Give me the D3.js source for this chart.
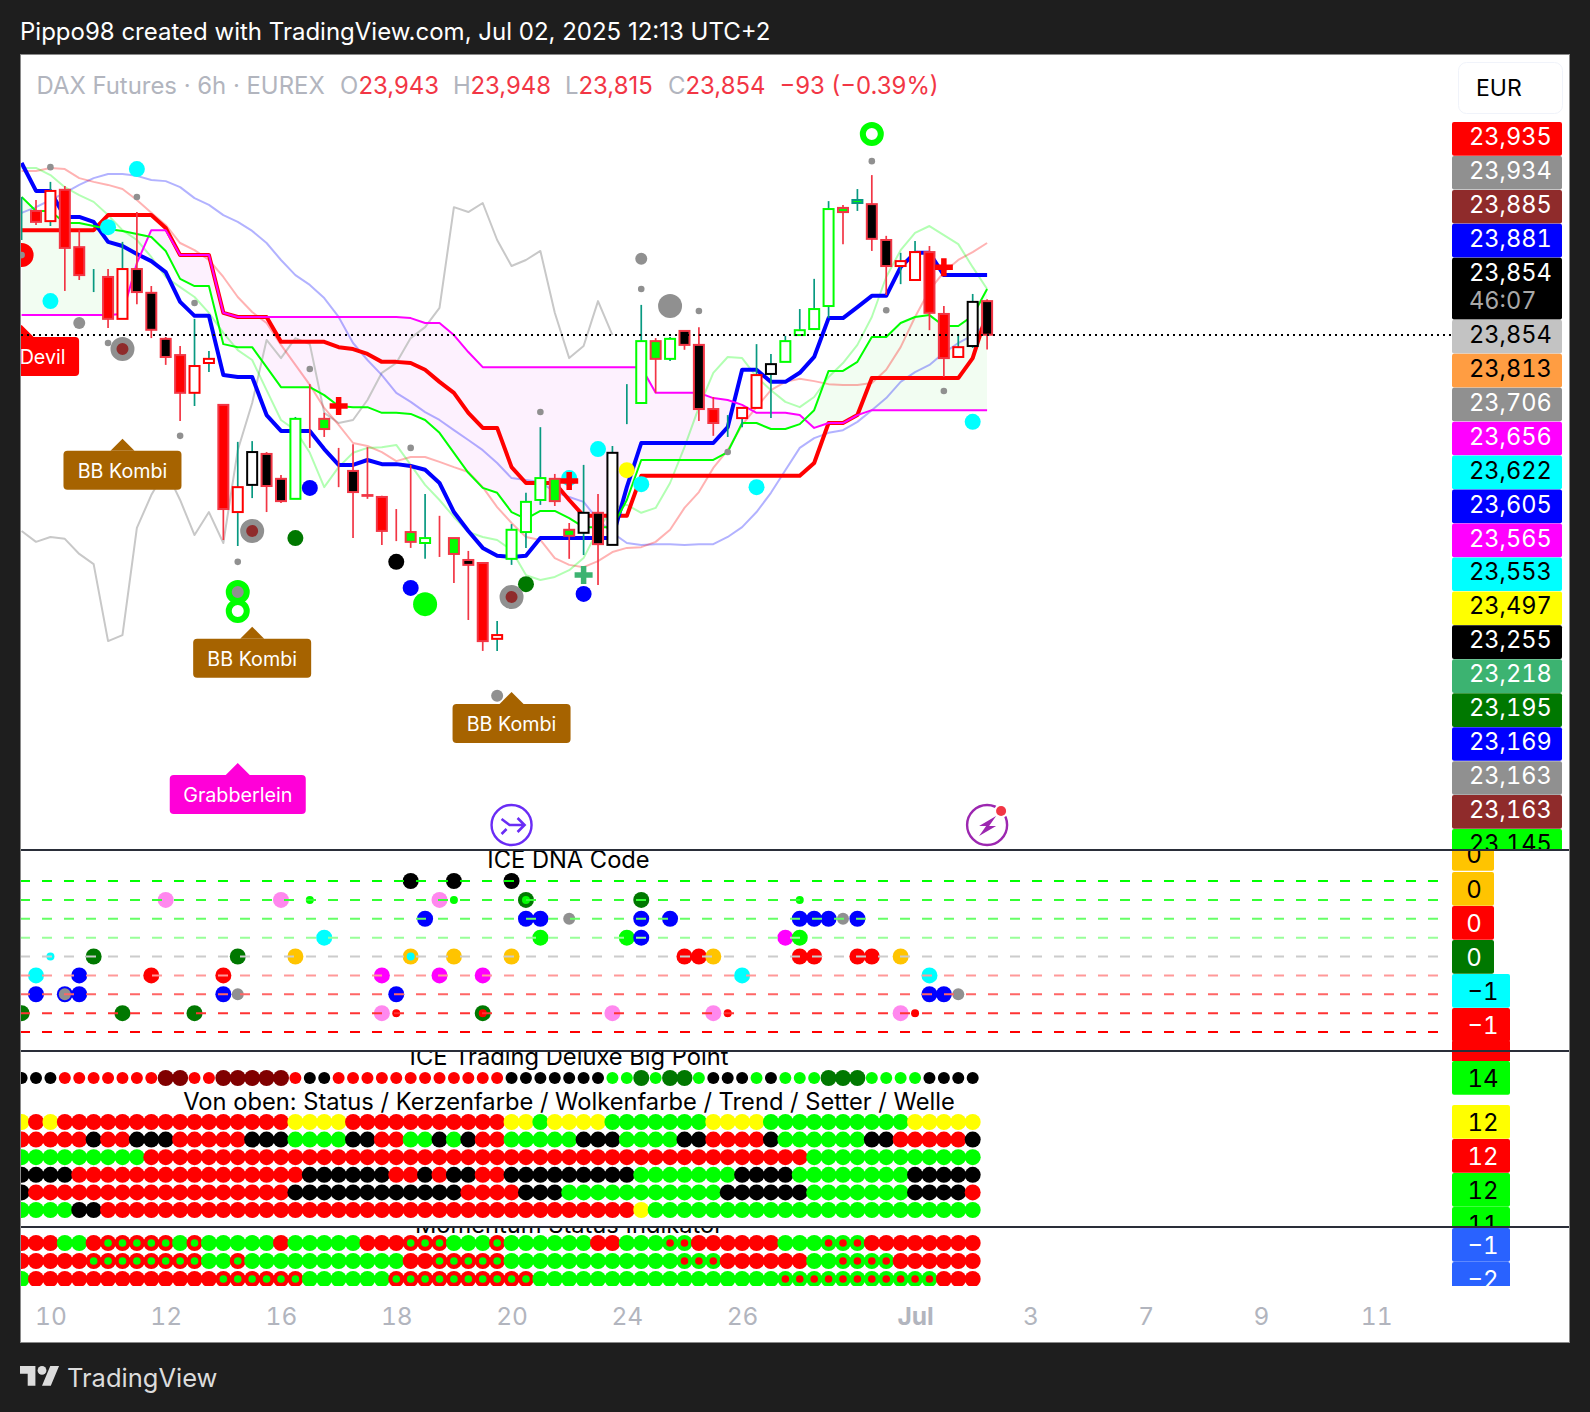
<!DOCTYPE html>
<html>
<head>
<meta charset="utf-8">
<title>DAX Futures 6h</title>
<script src="https://cdnjs.cloudflare.com/ajax/libs/d3/7.8.5/d3.min.js"></script>
<style>
  body { margin: 0; background: #1e1e1e; }
  svg { display: block; }
  text { font-family: Inter, "Noto Sans", sans-serif; }
  .num { font-variant-numeric: tabular-nums; }
</style>
</head>
<body>
<script>
//Width and height
var w = 1590;
var h = 1412;

// ---------- candles, one entry per 6h bar (price values)
var candleHigh = [24219,24211,24259,24248,24132,24028,24028,24100,24179,23983,23848,23824,23896,23811,23668,23570,23572,23543,23482,23636,23723,23647,23554,23564,23556,23427,23392,23509,23432,23374,23315,23281,23249,23095,23352,23435,23609,23485,23355,23509,23432,23559,23723,23933,23845,23848,23864,23874,23689,23641,23660,23829,23803,23851,23922,24002,24208,24198,24240,24277,24116,24071,24102,24089,23930,23856,23962,23948];
var candleLow = [24105,24145,24142,23970,23999,23967,23872,23896,23935,23845,23774,23625,23665,23755,23310,23294,23421,23384,23408,23419,23554,23583,23450,23315,23419,23297,23307,23289,23260,23265,23196,23098,23016,23016,23244,23289,23403,23400,23260,23270,23191,23297,23617,23673,23700,23784,23814,23625,23586,23583,23609,23660,23633,23782,23853,23869,23898,24094,24182,24076,23959,23988,23999,23866,23742,23795,23819,23815];
var bodyHigh = [24185,24182,24235,24238,24086,24012,24007,24028,24028,23965,23843,23800,23771,23790,23668,23450,23543,23538,23472,23631,23633,23631,23501,23493,23429,23424,23337,23331,23315,23315,23315,23257,23249,23058,23337,23411,23474,23472,23337,23382,23382,23541,23676,23837,23837,23843,23864,23827,23657,23623,23660,23747,23776,23837,23866,23922,24187,24190,24211,24200,24105,24049,24073,24073,23909,23821,23941,23943];
var bodyLow = [24185,24153,24155,24084,24012,24012,23896,23896,23967,23867,23795,23700,23700,23779,23392,23384,23456,23453,23413,23419,23633,23604,23501,23437,23427,23334,23337,23305,23302,23315,23273,23244,23042,23048,23260,23331,23416,23413,23321,23329,23299,23297,23676,23673,23790,23790,23827,23657,23620,23623,23633,23660,23750,23782,23853,23869,23930,24179,24203,24108,24036,24036,23999,23912,23792,23795,23824,23854];
// r red, k black, g green fill / h hollow red, b hollow black, e hollow green, t teal
var candleKind = "h r h r r b r h k k k r h h r h b k k e r g r k k r r g e r g k r h e e e g g b k b e e g e k k r h h h b e e e e g t k k h h r r h b k".split(" ");

// ---------- lines on the price pane
var blueLine = [24309,24235,24235,24166,24166,24153,24100,24089,24068,24049,24020,23941,23904,23904,23747,23742,23742,23641,23599,23599,23599,23551,23509,23509,23522,23511,23511,23506,23496,23461,23384,23334,23289,23268,23265,23268,23315,23315,23315,23315,23315,23315,23450,23567,23567,23567,23567,23567,23567,23609,23761,23761,23729,23729,23753,23795,23898,23898,23927,23957,23957,24033,24071,24071,24012,24012,24012,24012];
var redLine = [24131,24131,24131,24131,24131,24131,24171,24171,24171,24171,24137,24065,24065,24065,23912,23901,23901,23901,23835,23835,23835,23835,23821,23816,23803,23782,23782,23779,23761,23729,23700,23647,23607,23607,23503,23461,23461,23461,23416,23374,23374,23374,23374,23480,23480,23480,23480,23480,23480,23480,23480,23480,23480,23480,23480,23514,23620,23620,23641,23739,23739,23739,23739,23739,23739,23739,23792,23912];
var greenLine = [24219,24182,24182,24150,24150,24142,24134,24129,24121,24113,24076,24002,23983,23983,23829,23821,23821,23768,23715,23715,23715,23694,23665,23662,23662,23647,23647,23644,23628,23594,23541,23488,23448,23435,23384,23366,23387,23387,23368,23344,23344,23344,23416,23522,23522,23522,23522,23522,23522,23543,23620,23620,23604,23604,23617,23654,23758,23758,23782,23848,23848,23885,23901,23906,23877,23877,23904,23975];
var magentaLine = [23906,23906,23906,23906,23906,23906,23906,23909,24044,24131,24131,24065,24065,24065,23912,23901,23901,23901,23901,23901,23901,23901,23901,23901,23901,23901,23901,23898,23885,23885,23853,23808,23768,23768,23768,23768,23768,23768,23768,23768,23768,23768,23768,23768,23700,23700,23700,23700,23686,23681,23668,23647,23647,23647,23641,23607,23620,23620,23641,23654,23654,23654,23654,23654,23654,23654,23654,23654];
var paleGreenLine = [24296,24296,24277,24245,24224,24206,24171,24131,24105,24060,24007,23980,23954,23912,23859,23813,23787,23707,23628,23601,23541,23450,23503,23541,23554,23556,23562,23509,23456,23416,23371,23331,23318,23310,23283,23217,23204,23212,23230,23262,23337,23395,23403,23382,23395,23461,23556,23662,23753,23795,23792,23742,23707,23676,23662,23689,23742,23779,23827,23901,24007,24078,24124,24142,24118,24094,24033,23975];
var paleRedLine = [24288,24288,24296,24293,24269,24259,24251,24240,24211,24177,24145,24097,24078,24052,24007,23954,23914,23885,23827,23774,23721,23660,23615,23567,23559,23543,23519,23530,23530,23517,23503,23490,23450,23397,23355,23318,23310,23262,23244,23238,23254,23278,23289,23291,23305,23337,23395,23437,23501,23548,23615,23662,23707,23729,23737,23731,23723,23721,23721,23726,23761,23821,23901,23972,24020,24052,24073,24097];
var paleBlueLine = [24177,24192,24211,24230,24251,24269,24280,24280,24275,24264,24261,24245,24216,24198,24171,24153,24129,24097,24052,24012,23986,23951,23901,23832,23787,23747,23700,23676,23649,23628,23601,23575,23548,23514,23474,23469,23464,23437,23424,23411,23363,23329,23302,23297,23299,23299,23297,23299,23299,23318,23344,23384,23435,23495,23554,23580,23594,23601,23623,23654,23686,23729,23755,23774,23806,23832,23853,23885];
var laggingLine = [23334,23305,23318,23313,23273,23246,23042,23058,23342,23429,23495,23416,23323,23384,23302,23548,23673,23840,23792,23845,23829,23647,23620,23628,23681,23753,23779,23845,23874,23925,24192,24179,24203,24105,24036,24052,24076,23912,23792,23824,23943,23853];

// ---------- dots on the price pane: [bar, price]
var smallGrayDots = [[0,24065],[2,24298],[8,24219],[12,23938],[6,23832],[11,23586],[20,23763],[27,23554],[15,23252],[36,23649],[43,23975],[47,23917],[49,23543],[59,24314],[60,23919],[64,23705]];
var midGrayDots = [[4,23885],[33,22897],[43,24055]];
var bigGrayDots = [[45,23930]];
var cyanDots = [[8,24293],[6,24139],[2,23943],[40,23551],[43,23458],[51,23450],[66,23623],[38,23474]];
var yellowDots = [[42,23495]];
var blueDots = [[20,23448],[27,23183],[39,23167]];
var darkGreenDots = [[19,23315],[35,23193]];
var blackDots = [[26,23252]];
var limeDots = [[28,23140]];
var brownRings = [[7,23816],[16,23334],[34,23159]];
var limeRings = [[15,23122],[59,24386]];
var limeGrayRings = [[15,23172]];
var redDiscs = [[0,24065]];
var redCrosses = [[22,23665],[38,23466],[64,24033]];
var seaCrosses = [[39,23217]];

var tagBars = [7,16,34,15,0];
var tagPrices = [23578,23080,22907,22719,23880];
var tagTexts = ["BB Kombi","BB Kombi","BB Kombi","Grabberlein","Devil"];
var tagKinds = ["brown","brown","brown","pink","red"];

var priceLabels = ["23,935","23,934","23,885","23,881","23,854","23,854","23,813","23,706","23,656","23,622","23,605","23,565","23,553","23,497","23,255","23,218","23,195","23,169","23,163","23,163","23,145"];
var priceLabelKinds = ["red","gray","brown","blue","black","silver","orange","gray","magenta","cyan","blue","magenta","cyan","yellow","black","sea","dkgreen","blue","gray","brown","lime"];

// ---------- ICE DNA Code, rows 4 (top) to -4 (bottom): [bar, kind]
var dnaRow4 = [[27,"k"],[30,"k"],[34,"k"]];
var dnaRow3 = [[10,"p"],[18,"p"],[20,"gs"],[29,"p"],[30,"gs"],[35,"d"],[35,"gs"],[43,"d"],[54,"gs"]];
var dnaRow2 = [[28,"b"],[35,"b"],[36,"b"],[38,"n"],[43,"b"],[45,"b"],[54,"b"],[55,"b"],[56,"b"],[57,"n"],[58,"b"]];
var dnaRow1 = [[21,"c"],[36,"g"],[42,"g"],[43,"b"],[53,"m"],[54,"g"]];
var dnaRow0 = [[2,"cs"],[5,"d"],[15,"d"],[19,"a"],[27,"a"],[27,"cs"],[30,"a"],[34,"a"],[46,"r"],[47,"r"],[48,"a"],[54,"r"],[55,"r"],[58,"r"],[59,"r"],[61,"a"]];
var dnaRowM1 = [[1,"c"],[4,"b"],[9,"r"],[14,"r"],[25,"m"],[29,"m"],[32,"m"],[50,"c"],[63,"c"]];
var dnaRowM2 = [[1,"b"],[3,"b"],[3,"n"],[4,"b"],[14,"b"],[15,"n"],[26,"b"],[63,"b"],[64,"b"],[65,"n"]];
var dnaRowM3 = [[0,"d"],[7,"d"],[12,"d"],[25,"p"],[26,"rs"],[32,"d"],[32,"rs"],[41,"p"],[48,"p"],[49,"rs"],[61,"p"],[62,"rs"]];
var dnaRowValues = [4,3,2,1,0,-1,-2,-3,-4];
var dnaRows = [dnaRow4,dnaRow3,dnaRow2,dnaRow1,dnaRow0,dnaRowM1,dnaRowM2,dnaRowM3,[]];
var dnaLineColors = ["#00ff00","#33ff33","#66ff66","#99ff99","#cccccc","#ff9999","#ff6666","#ff3333","#ff0000"];

// ---------- status rows, written as runs: kind + number of bars
var bigPointRuns = "k3 r7 m2 r2 m5 r1 k2 r12 k7 g2 d1 g1 d2 g1 k3 g1 k1 g3 d3 g4 k4";
var statusRun = "y1 r1 y1 r16 y4 r11 y2 g1 y4 g7 y4 g10 y5";
var candleRun = "r5 k1 r2 k3 r5 k3 g4 k2 r2 g2 k1 g1 k1 r2 g5 k3 g4 k2 r4 k1 g6 k2 r5 k1";
var cloudRun = "g9 r46 g12";
var trendRun = "k4 r16 k6 r2 k1 r1 k2 r2 k9 g7 k4 g8 k5";
var setterRun = "k1 r18 k12 r4 k3 g11 k6 g7 k4 r1";
var waveRun = "g4 k2 r37 y1 g23";
// R red with green centre, G green with red centre
var momentumRun1 = "r3 g2 r1 R5 g1 R1 g5 r1 g5 r3 R3 g3 R1 g6 r2 g3 G2 r6 g3 G3 r8";
var momentumRun2 = "r5 R8 g2 R1 g11 r2 R5 g12 G3 r6 g2 G4 r6";
var momentumRun3 = "g1 r13 R6 g6 R10 g17 G11 r3";

var tickBars = [2,10,18,26,34,42,50,62,70,78,86,94];
var tickLabels = ["10","12","16","18","20","24","26","Jul","3","7","9","11"];

var paneLabels = ["0","0","0","0","\u22121","\u22121","","14","12","12","12","11","\u22121","\u22122"];
var paneLabelKinds = ["amber","amber","red","dkgreen","cyan","red","red","lime","yellow","red","lime","lime","royal","royal"];

function expandRuns(text) {
    var out = [];
    text.split(" ").forEach(function(run) {
        for (var n = +run.slice(1); n > 0; n--) out.push(run[0]);
    });
    return out;
}

var palette = {
    red:["#ff0000","#fff"], gray:["#909090","#fff"], brown:["#8f2b2b","#fff"], blue:["#0000ff","#fff"], black:["#000","#fff"],
    silver:["#c3c3c3","#000"], orange:["#ff9d42","#000"], magenta:["#ff00ff","#fff"], cyan:["#00ffff","#000"], yellow:["#ffff00","#000"],
    sea:["#3cb371","#fff"], dkgreen:["#007800","#fff"], lime:["#00ff00","#000"], amber:["#ffc400","#000"], royal:["#2962ff","#fff"]
};

//Scales
var xScale = d3.scaleLinear().domain([0, 67]).range([21.6, 987.1]);
var yScale = d3.scaleLinear().domain([24741, 22000]).range([0, 1034.3]);
var dnaScale = d3.scaleLinear().domain([4, -4]).range([881, 1032]);
var statusScale = d3.scalePoint().domain(d3.range(6)).range([1122, 1210]);
var momentumScale = d3.scalePoint().domain(d3.range(3)).range([1243, 1279]);

//Create SVG element
var svg = d3.select("body").append("svg").attr("width", w).attr("height", h);
var defs = svg.append("defs");

function addClip(id, x, y, cw, ch) {
    defs.append("clipPath").attr("id", id).append("rect")
        .attr("x", x).attr("y", y).attr("width", cw).attr("height", ch);
}
addClip("clip-main", 21, 55, 1431, 795);
addClip("clip-labels", 1452, 55, 112, 795);
addClip("clip-dna", 21, 851, 1546, 199);
addClip("clip-status", 21, 1052, 1546, 175);
addClip("clip-momentum", 21, 1228, 1546, 58);
addClip("clip-pane-dna", 1452, 851, 60, 210);
addClip("clip-pane-mid", 1452, 1052, 60, 175);
addClip("clip-pane-mom", 1452, 1228, 60, 58);

//Frame and title
svg.append("rect").attr("x", 20.5).attr("y", 54.5).attr("width", 1549).attr("height", 1288)
    .attr("fill", "#fff").attr("stroke", "#8a8a8a").attr("stroke-width", 1);

svg.append("text").attr("x", 20).attr("y", 40).attr("fill", "#fff").attr("font-size", 24)
    .text("Pippo98 created with TradingView.com, Jul 02, 2025 12:13 UTC+2");

//Cloud between green and magenta lines
var main = svg.append("g").attr("clip-path", "url(#clip-main)");
var bars = d3.range(68);

defs.append("clipPath").attr("id", "above-green").append("path")
    .attr("d", d3.area().x(function(i) { return xScale(i); }).y0(0)
        .y1(function(i) { return yScale(greenLine[i]); })(bars));
defs.append("clipPath").attr("id", "below-green").append("path")
    .attr("d", d3.area().x(function(i) { return xScale(i); }).y0(900)
        .y1(function(i) { return yScale(greenLine[i]); })(bars));

main.append("path").attr("clip-path", "url(#above-green)").attr("fill", "#fdf1fe")
    .attr("d", d3.area().x(function(i) { return xScale(i); }).y0(900)
        .y1(function(i) { return yScale(magentaLine[i]); })(bars));
main.append("path").attr("clip-path", "url(#below-green)").attr("fill", "#f2fdf2")
    .attr("d", d3.area().x(function(i) { return xScale(i); }).y0(0)
        .y1(function(i) { return yScale(magentaLine[i]); })(bars));

//Lines
var lineGen = d3.line().x(function(d, i) { return xScale(i); }).y(function(d) { return yScale(d); });
function addLine(values, color, width) {
    main.append("path").attr("d", lineGen(values)).attr("fill", "none")
        .attr("stroke", color).attr("stroke-width", width).attr("stroke-linejoin", "round");
}
addLine(laggingLine, "#c8c8c8", 2);
addLine(paleBlueLine, "rgba(0,0,255,0.3)", 2);
addLine(paleRedLine, "rgba(255,0,0,0.3)", 2);
addLine(paleGreenLine, "rgba(0,255,0,0.3)", 2);
addLine(redLine, "#ff0000", 4);
addLine(blueLine, "#0000ff", 4);
addLine(magentaLine, "#ff00ff", 2);
addLine(greenLine, "#00ff00", 2);

//Candles
var candleFill = { r:"#ff0000", k:"#000", g:"#00ff00", h:"#fff", b:"#fff", e:"#fff", t:"#00ff00" };
var candleEdge = { r:"#f23645", k:"#f23645", g:"#f23645", h:"#ff0000", b:"#000", e:"#00ff00", t:"#089981" };
var candleWick = { r:"#f23645", k:"#f23645", g:"#f23645", h:"#089981", b:"#089981", e:"#089981", t:"#089981" };

main.selectAll("line.wick").data(bars).enter().append("line")
    .attr("class", "wick")
    .attr("x1", function(i) { return xScale(i); }).attr("x2", function(i) { return xScale(i); })
    .attr("y1", function(i) { return yScale(candleHigh[i]); }).attr("y2", function(i) { return yScale(candleLow[i]); })
    .attr("stroke", function(i) { return candleWick[candleKind[i]]; }).attr("stroke-width", 1.7);

main.selectAll("rect.body").data(bars).enter().append("rect")
    .attr("class", "body")
    .attr("x", function(i) { return xScale(i) - 5; }).attr("width", 10)
    .attr("y", function(i) { return yScale(bodyHigh[i]); })
    .attr("height", function(i) { return yScale(bodyLow[i]) - yScale(bodyHigh[i]); })
    .attr("fill", function(i) { return candleFill[candleKind[i]]; })
    .attr("stroke", function(i) { return candleEdge[candleKind[i]]; }).attr("stroke-width", 2);

//Dots on the price pane
function addDots(points, radius, color) {
    main.selectAll(null).data(points).enter().append("circle")
        .attr("cx", function(d) { return xScale(d[0]); })
        .attr("cy", function(d) { return yScale(d[1]); })
        .attr("r", radius).attr("fill", color);
}
function addRings(points, radius, color, width, fill) {
    main.selectAll(null).data(points).enter().append("circle")
        .attr("cx", function(d) { return xScale(d[0]); })
        .attr("cy", function(d) { return yScale(d[1]); })
        .attr("r", radius).attr("fill", fill).attr("stroke", color).attr("stroke-width", width);
}
addDots(smallGrayDots, 3.3, "#909090");
addDots(midGrayDots, 6, "#909090");
addDots(bigGrayDots, 12, "#909090");
addDots(cyanDots, 8, "#00ffff");
addDots(yellowDots, 8, "#ffff00");
addDots(blueDots, 8, "#0000ff");
addDots(darkGreenDots, 8, "#007800");
addDots(blackDots, 8, "#000");
addDots(limeDots, 12, "#00ff00");
addRings(brownRings, 9, "#909090", 6, "#8f2b2b");
addRings(limeRings, 9, "#00ff00", 6, "#fff");
addRings(limeGrayRings, 9, "#00ff00", 6, "#909090");
addDots(redDiscs, 12, "#ff0000");
addDots(redDiscs, 3.3, "#909090");

function addCrosses(points, color) {
    main.selectAll(null).data(points).enter().append("path")
        .attr("transform", function(d) { return "translate(" + xScale(d[0]) + "," + yScale(d[1]) + ")"; })
        .attr("d", "M-9,0H9M0,-9V9").attr("stroke", color).attr("stroke-width", 5.5).attr("fill", "none");
}
addCrosses(redCrosses, "#ff0000");
addCrosses(seaCrosses, "#3cb371");

//Tags below the bars
var tagColors = { brown:"#a66300", pink:"#ff00d8", red:"#ff0000" };
var tagWidths = { "BB Kombi":118, "Grabberlein":136, "Devil":116 };
var tags = main.selectAll("g.tag").data(d3.range(tagTexts.length)).enter().append("g")
    .attr("class", "tag")
    .attr("transform", function(i) { return "translate(" + xScale(tagBars[i]) + "," + yScale(tagPrices[i]) + ")"; });
tags.append("path")
    .attr("d", "M0,0L12,12H-12Z")
    .attr("fill", function(i) { return tagColors[tagKinds[i]]; });
tags.append("rect")
    .attr("x", function(i) { return -tagWidths[tagTexts[i]] / 2 + (tagTexts[i] == "Devil" ? -0.5 : 0); })
    .attr("y", 12).attr("rx", 4)
    .attr("width", function(i) { return tagWidths[tagTexts[i]]; })
    .attr("height", 39)
    .attr("fill", function(i) { return tagColors[tagKinds[i]]; });
tags.append("text")
    .attr("x", function(i) { return tagTexts[i] == "Devil" ? 21 : 0; })
    .attr("y", 39).attr("text-anchor", "middle").attr("fill", "#fff").attr("font-size", 19.7)
    .text(function(i) { return tagTexts[i]; });

//Icons at the foot of the price pane
var iconTrend = svg.append("g").attr("transform", "translate(" + xScale(34) + ",825)")
    .attr("fill", "none").attr("stroke", "#6a2cf5");
iconTrend.append("circle").attr("r", 20).attr("stroke-width", 2.4);
iconTrend.append("path").attr("stroke-width", 2.6).attr("d", "M-10,-6L-2,0H13M6,-7L13,0L6,7M-10,9L-5,4");

var iconBolt = svg.append("g").attr("transform", "translate(" + xScale(67) + ",825)");
iconBolt.append("circle").attr("r", 20).attr("fill", "none").attr("stroke", "#9c27b0").attr("stroke-width", 2.4);
iconBolt.append("path").attr("fill", "#9c27b0").attr("d", "M9,-9L-8,1H-1L-8,11L9,1H2Z");
iconBolt.append("circle").attr("cx", 14).attr("cy", -14).attr("r", 7).attr("fill", "#fff");
iconBolt.append("circle").attr("cx", 14).attr("cy", -14).attr("r", 5).attr("fill", "#f23645");

//Dotted last price line
svg.append("line").attr("x1", 21).attr("x2", 1452).attr("y1", 335).attr("y2", 335)
    .attr("stroke", "#000").attr("stroke-width", 2).attr("stroke-dasharray", "2,4");

//Legend
var legendGray = "#b2b5be", legendRed = "#f23645";
var legendParts = [
    ["DAX Futures \u00b7 6h \u00b7 EUREX", 36.5, legendGray], ["O", 340, legendGray], ["23,943", 358.5, legendRed],
    ["H", 453, legendGray], ["23,948", 470.5, legendRed], ["L", 565, legendGray], ["23,815", 578.5, legendRed],
    ["C", 668, legendGray], ["23,854", 685.5, legendRed], ["\u221293 (\u22120.39%)", 779.5, legendRed]
];
svg.selectAll("text.legend").data(legendParts).enter().append("text")
    .attr("class", "legend")
    .attr("x", function(d) { return d[1]; }).attr("y", 94).attr("font-size", 23.9)
    .attr("fill", function(d) { return d[2]; })
    .text(function(d) { return d[0]; });

//EUR button
svg.append("rect").attr("x", 1458.5).attr("y", 62.5).attr("width", 104).attr("height", 51).attr("rx", 8)
    .attr("fill", "#fff").attr("stroke", "#f0f3fa");
svg.append("text").attr("x", 1476).attr("y", 96).attr("font-size", 23).attr("fill", "#000").text("EUR");

//Price labels, stacked
var labelGroup = svg.append("g").attr("clip-path", "url(#clip-labels)");
var labelTop = 122;
priceLabels.forEach(function(text, i) {
    var colors = palette[priceLabelKinds[i]];
    var tall = i == 4;
    var bh = tall ? 62 : 33.95;
    labelGroup.append("rect").attr("x", 1452).attr("y", labelTop).attr("width", 110).attr("height", bh - 0.3)
        .attr("rx", 2).attr("fill", colors[0]);
    labelGroup.append("text").attr("class", "num").attr("x", 1469).attr("y", labelTop + 23).attr("font-size", 23.6).attr("fill", colors[1]).text(text);
    if (tall) {
        labelGroup.append("text").attr("class", "num").attr("x", 1469).attr("y", labelTop + 51.5).attr("font-size", 23.6).attr("fill", "#a8a8a8").text("46:07");
    }
    labelTop += bh;
});

//ICE DNA Code pane
var dnaPane = svg.append("g").attr("clip-path", "url(#clip-dna)");
var dnaKinds = {
    k:["#000",8], p:["#ff88ee",8], d:["#007800",8], b:["#0000ff",8], n:["#909090",6], c:["#00ffff",8],
    g:["#00ff00",8], m:["#ff00ff",8], a:["#ffc400",8], r:["#ff0000",8], gs:["#00ff00",4], cs:["#00ffff",4], rs:["#ff0000",4]
};
dnaRows.forEach(function(row, r) {
    dnaPane.selectAll(null).data(row).enter().append("circle")
        .attr("cx", function(d) { return xScale(d[0]); })
        .attr("cy", dnaScale(dnaRowValues[r]))
        .attr("r", function(d) { return dnaKinds[d[1]][1]; })
        .attr("fill", function(d) { return dnaKinds[d[1]][0]; });
});
dnaPane.selectAll("line.level").data(dnaRowValues).enter().append("line")
    .attr("class", "level")
    .attr("x1", 20).attr("x2", 1440)
    .attr("y1", function(d) { return dnaScale(d); }).attr("y2", function(d) { return dnaScale(d); })
    .attr("stroke", function(d, i) { return dnaLineColors[i]; })
    .attr("stroke-width", 2).attr("stroke-dasharray", "10,12");
dnaPane.append("text").attr("x", 568.5).attr("y", 868).attr("text-anchor", "middle").attr("font-size", 23.7)
    .text("ICE DNA Code");

//Big point row and status rows
var dotColors = { r:"#ff0000", g:"#00ff00", k:"#000", y:"#ffff00" };
var statusPane = svg.append("g").attr("clip-path", "url(#clip-status)");
var bigColors = { r:"#ff0000", g:"#00ff00", k:"#000", m:"#800000", d:"#007800" };
statusPane.selectAll("circle.big").data(expandRuns(bigPointRuns)).enter().append("circle")
    .attr("class", "big")
    .attr("cx", function(d, i) { return xScale(i); }).attr("cy", 1078)
    .attr("r", function(d) { return d == "m" || d == "d" ? 8 : 6; })
    .attr("fill", function(d) { return bigColors[d]; });

[statusRun, candleRun, cloudRun, trendRun, setterRun, waveRun].forEach(function(run, r) {
    statusPane.selectAll(null).data(expandRuns(run)).enter().append("circle")
        .attr("cx", function(d, i) { return xScale(i); }).attr("cy", statusScale(r))
        .attr("r", 8).attr("fill", function(d) { return dotColors[d]; });
});
statusPane.append("text").attr("x", 569).attr("y", 1065).attr("text-anchor", "middle").attr("font-size", 23.7)
    .text("ICE Trading Deluxe Big Point");
statusPane.append("text").attr("x", 569).attr("y", 1110).attr("text-anchor", "middle").attr("font-size", 23.7)
    .text("Von oben: Status / Kerzenfarbe / Wolkenfarbe / Trend / Setter / Welle");

//Momentum rows
var momentumPane = svg.append("g").attr("clip-path", "url(#clip-momentum)");
[momentumRun1, momentumRun2, momentumRun3].forEach(function(run, r) {
    momentumPane.selectAll(null).data(expandRuns(run)).enter().append("circle")
        .attr("cx", function(d, i) { return xScale(i); }).attr("cy", momentumScale(r))
        .attr("r", 8).attr("fill", function(d) { return d == "r" || d == "R" ? "#ff0000" : "#00ff00"; });
});
[momentumRun1, momentumRun2, momentumRun3].forEach(function(run, r) {
    expandRuns(run).forEach(function(d, i) {
        if (d != "R" && d != "G") return;
        momentumPane.append("circle").attr("cx", xScale(i)).attr("cy", momentumScale(r))
            .attr("r", 3.8).attr("fill", d == "R" ? "#00ff00" : "#ff0000");
    });
});
momentumPane.append("text").attr("x", 569).attr("y", 1233).attr("text-anchor", "middle").attr("font-size", 23.7)
    .text("Momentum Status Indikator");

//Pane value labels
var paneTops = [837,872,906,940,974,1008,1040,1061,1105,1139,1173,1207,1228,1262];
paneLabels.forEach(function(text, i) {
    var colors = palette[paneLabelKinds[i]];
    var wide = i > 3;
    var clip = i < 7 ? "clip-pane-dna" : (i < 12 ? "clip-pane-mid" : "clip-pane-mom");
    var g = svg.append("g").attr("clip-path", "url(#" + clip + ")");
    g.append("rect").attr("x", 1452).attr("y", paneTops[i]).attr("width", wide ? 58 : 42)
        .attr("height", 33.8).attr("rx", 2).attr("fill", colors[0]);
    g.append("text").attr("class", "num").attr("x", wide ? 1483 : 1474).attr("y", paneTops[i] + 26).attr("text-anchor", "middle")
        .attr("font-size", 24).attr("fill", colors[1]).text(text);
});

//Pane separators
[850, 1051, 1227].forEach(function(py) {
    svg.append("line").attr("x1", 21).attr("x2", 1569).attr("y1", py).attr("y2", py)
        .attr("stroke", "#2a2e39").attr("stroke-width", 2);
});

//Time axis
var axis = svg.append("g").attr("transform", "translate(0,1310)")
    .call(d3.axisBottom(xScale).tickValues(tickBars).tickSize(0).tickPadding(0)
        .tickFormat(function(d, i) { return tickLabels[i]; }));
axis.select(".domain").remove();
axis.selectAll("text")
    .attr("class", "num")
    .attr("font-size", 24.5).attr("font-family", "Inter")
    .attr("fill", "#b2b5be").attr("dy", "0.6em")
    .attr("font-weight", function(d, i) { return tickLabels[i] == "Jul" ? 700 : 400; });

//TradingView logo and name
var logo = svg.append("g").attr("transform", "translate(20,1361.6) scale(1.1)").attr("fill", "#dcdcdc");
logo.append("path").attr("d", "M14 22H7V11H0V4h14v18zM28 22h-8l7.5-18h8L28 22z");
logo.append("circle").attr("cx", 20).attr("cy", 8).attr("r", 4);
svg.append("text").attr("x", 67).attr("y", 1387).attr("font-size", 25.5).attr("fill", "#dcdcdc").text("TradingView");
</script>
</body>
</html>
